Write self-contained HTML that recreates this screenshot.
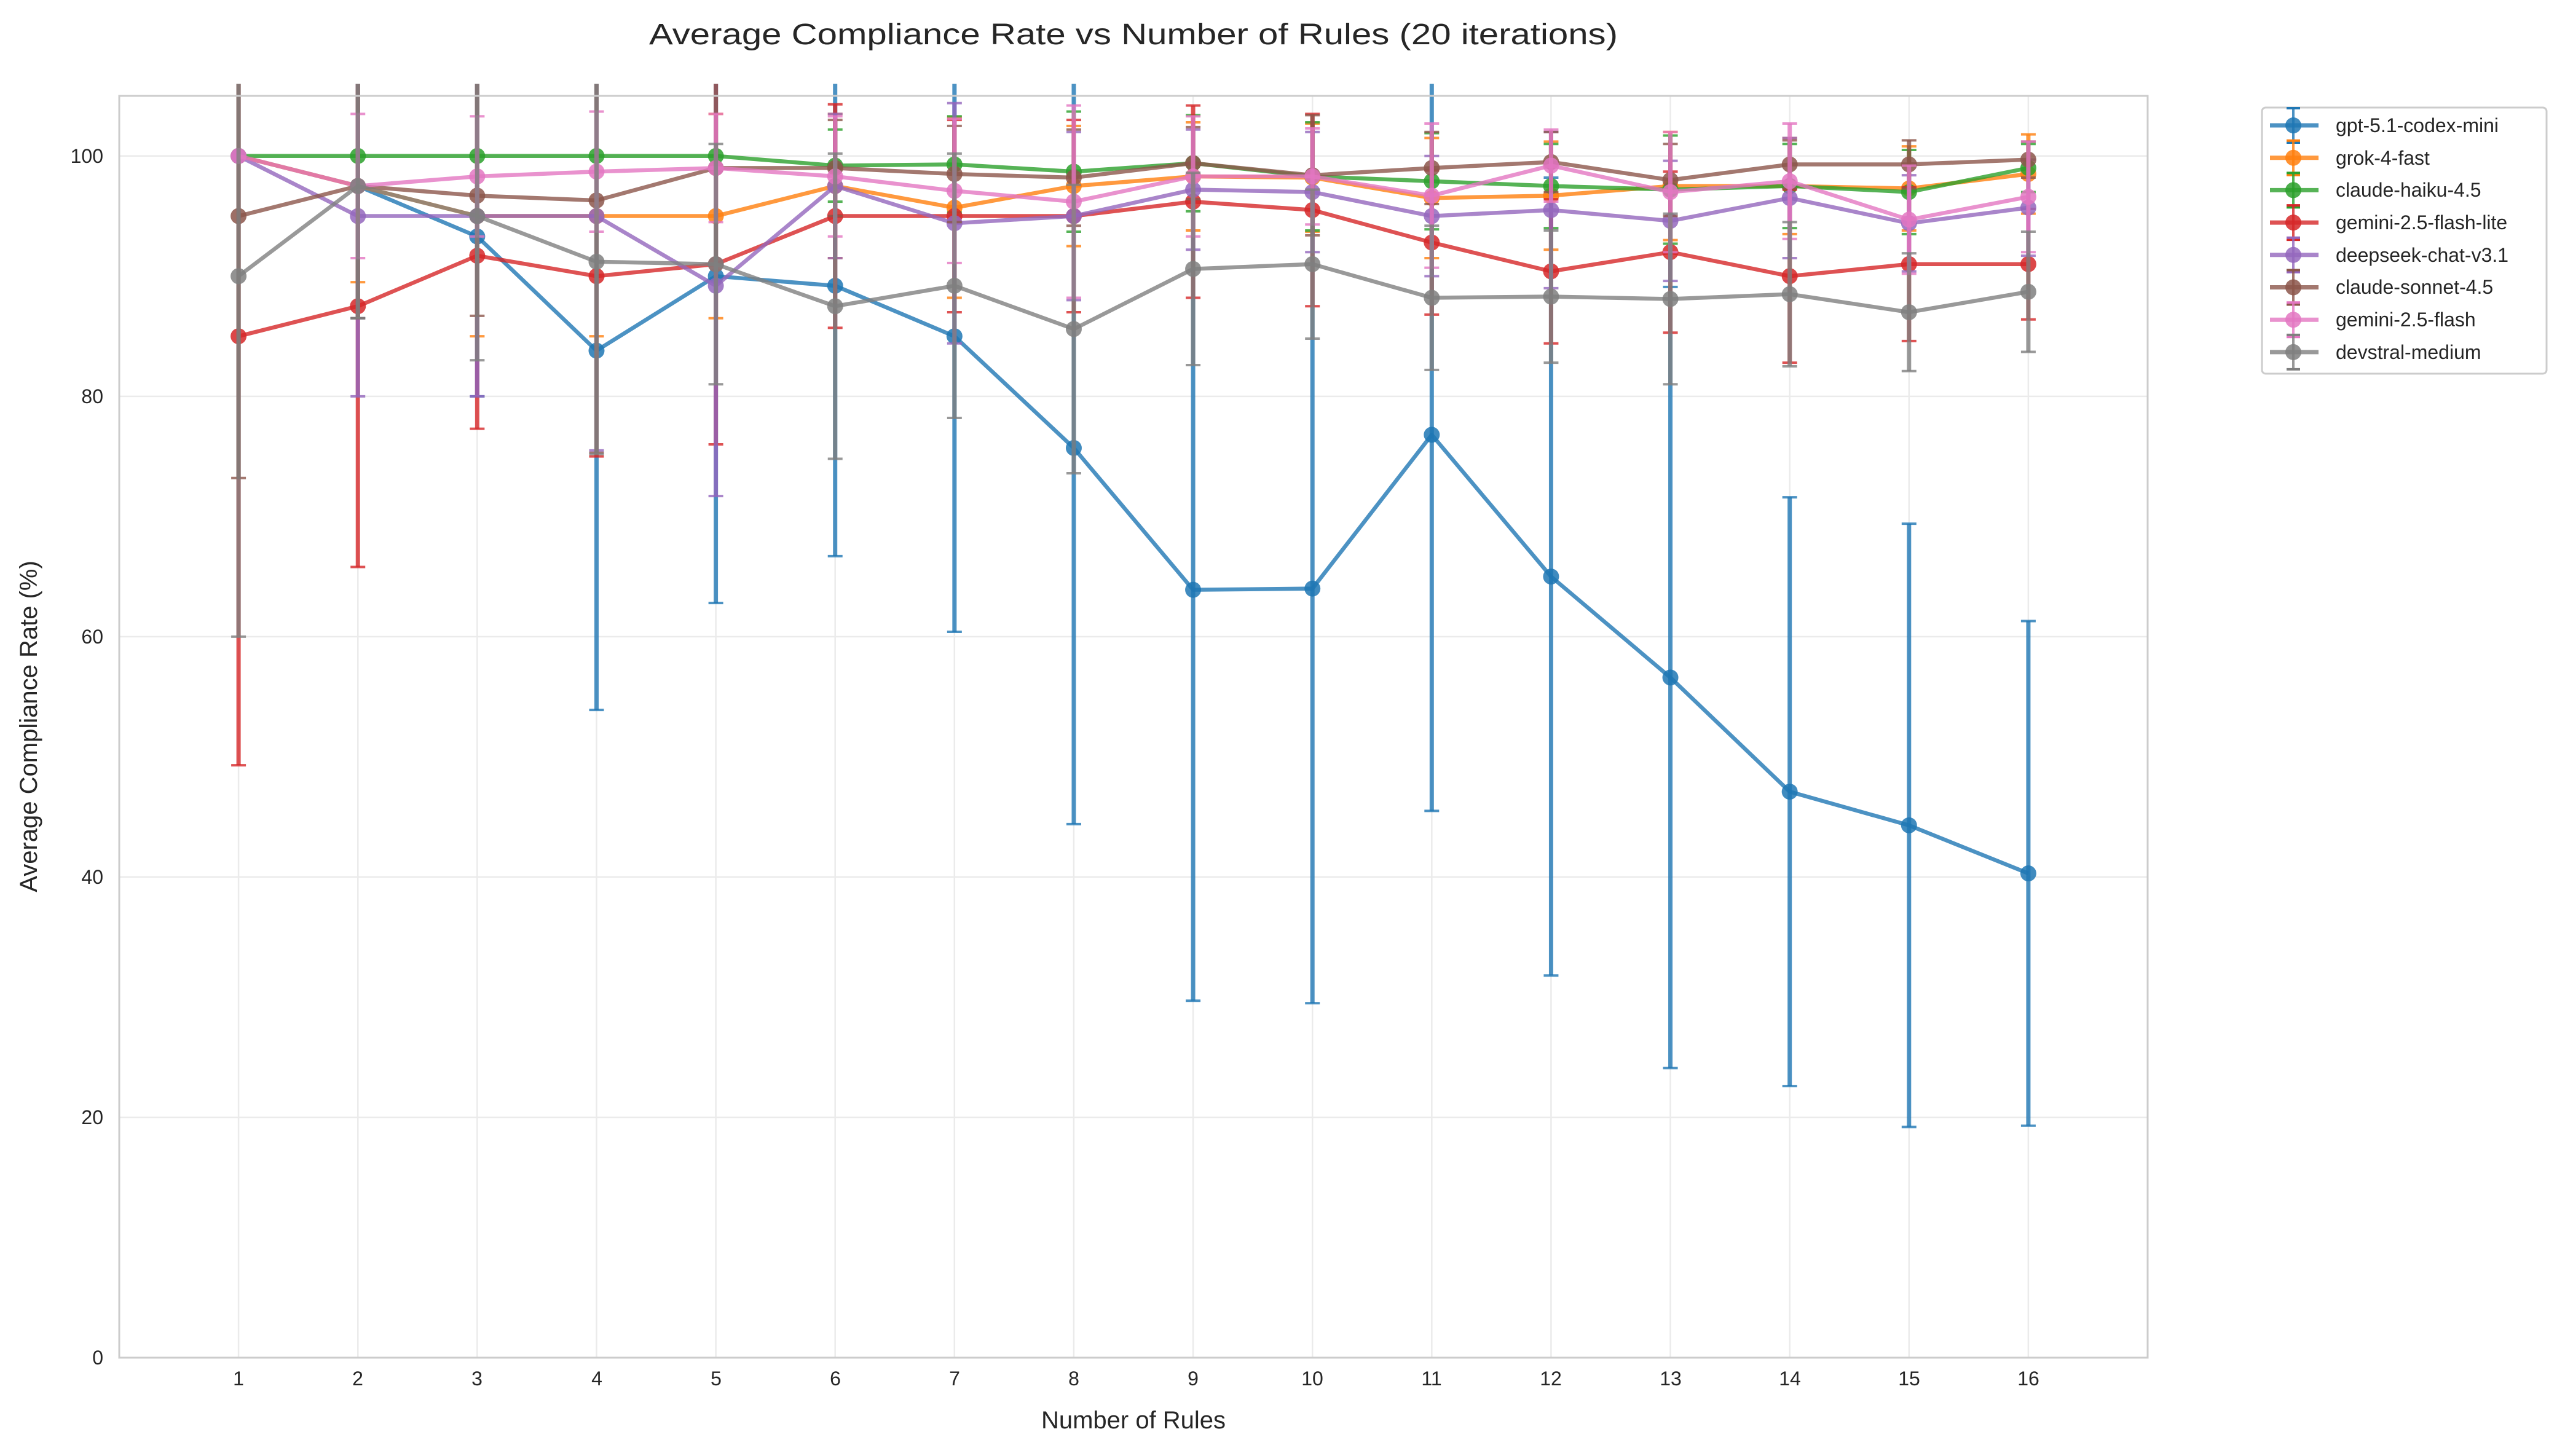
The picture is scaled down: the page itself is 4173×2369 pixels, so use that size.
<!DOCTYPE html>
<html><head><meta charset="utf-8"><style>html,body{margin:0;padding:0;background:#fff}svg{display:block}</style></head>
<body>
<svg id="s" xmlns="http://www.w3.org/2000/svg" width="4173" height="2369" viewBox="0 0 4173 2369" font-family="Liberation Sans, Arial, sans-serif">
<rect width="4173" height="2369" fill="#fff"/>
<g id="grid" stroke="#ebebeb" stroke-width="2.5"></g>
<g id="data"></g>
<rect x="194" y="156" width="3300" height="2053" fill="none" stroke="#cccccc" stroke-width="3"/>
<g font-size="32" fill="#262626" text-anchor="end">
<text x="168" y="2220">0</text><text x="168" y="1829">20</text><text x="168" y="1438">40</text>
<text x="168" y="1047">60</text><text x="168" y="656">80</text><text x="168" y="265">100</text>
</g>
<g font-size="32" fill="#262626" text-anchor="middle">
<text x="388" y="2254">1</text><text x="582" y="2254">2</text><text x="776" y="2254">3</text><text x="971" y="2254">4</text>
<text x="1165" y="2254">5</text><text x="1359" y="2254">6</text><text x="1553" y="2254">7</text><text x="1747" y="2254">8</text>
<text x="1941" y="2254">9</text><text x="2135" y="2254">10</text><text x="2329" y="2254">11</text><text x="2523" y="2254">12</text>
<text x="2718" y="2254">13</text><text x="2912" y="2254">14</text><text x="3106" y="2254">15</text><text x="3300" y="2254">16</text>
</g>
<text x="1844" y="72" font-size="48" text-anchor="middle" fill="#262626" textLength="1576" lengthAdjust="spacingAndGlyphs">Average Compliance Rate vs Number of Rules (20 iterations)</text>
<text x="1844" y="2324" font-size="40" text-anchor="middle" fill="#262626">Number of Rules</text>
<text transform="translate(60,1182) rotate(-90)" font-size="40" text-anchor="middle" fill="#262626">Average Compliance Rate (%)</text>
<rect x="3680" y="175" width="463" height="433" rx="6" fill="#fff" fill-opacity="0.8" stroke="#cccccc" stroke-width="3"/>
<g id="leg"></g>
<g font-size="32" fill="#262626">
<text x="3800" y="215">gpt-5.1-codex-mini</text>
<text x="3800" y="268">grok-4-fast</text>
<text x="3800" y="320">claude-haiku-4.5</text>
<text x="3800" y="373">gemini-2.5-flash-lite</text>
<text x="3800" y="426">deepseek-chat-v3.1</text>
<text x="3800" y="478">claude-sonnet-4.5</text>
<text x="3800" y="531">gemini-2.5-flash</text>
<text x="3800" y="584">devstral-medium</text>
</g>
</svg>
<script>
var NS="http://www.w3.org/2000/svg";
function X(v){return 194+v*194.12;}
function Y(v){return 2209-v*19.552;}
function el(p,t,a){var e=document.createElementNS(NS,t);for(var k in a)e.setAttribute(k,a[k]);p.appendChild(e);return e;}
var g=document.getElementById('grid');
for(var i=1;i<=16;i++)el(g,'line',{x1:X(i),x2:X(i),y1:156,y2:2209});
for(var j=20;j<=100;j+=20)el(g,'line',{x1:194,x2:3494,y1:Y(j),y2:Y(j)});
var S=[
["#1f77b4",[100,97.5,93.3,83.8,90,89.2,85,75.7,63.9,64,76.8,65,56.6,47.1,44.3,40.3],[0,11,13.3,29.9,27.2,22.5,24.6,31.3,34.2,34.5,31.3,33.2,32.5,24.5,25.1,21]],
["#ff7f0e",[100,97.5,95,95,95,97.5,95.7,97.5,98.3,98.2,96.5,96.7,97.5,97.5,97.3,98.5],[0,8,10,10,8.5,6,7.5,5,4.5,4.5,5,4.5,4.5,4,3.5,3.3]],
["#2ca02c",[100,100,100,100,100,99.2,99.3,98.7,99.4,98.3,97.9,97.5,97.2,97.5,97,99],[0,0,0,0,0,3,4,5,4,4.5,4,3.5,4.5,3.5,3.5,2]],
["#d62728",[85,87.5,91.7,90,91,95,95,95,96.2,95.5,92.8,90.4,92,90,91,91],[35.7,21.7,14.4,15,15,9.3,8,8,8,8,6,6,6.7,7.2,6.4,4.6]],
["#9467bd",[100,95,95,95,89.2,97.5,94.4,95,97.2,97,95,95.5,94.6,96.5,94.4,95.7],[0,15,15,19.5,17.5,6,10,7,5,5,5,6.5,5,5,4,4]],
["#8c564b",[95,97.5,96.7,96.3,99,99,98.5,98.2,99.4,98.4,99,99.5,98,99.3,99.3,99.7],[21.8,11,10,21,8,4,4,4,3,5,3,2.5,3,2,2,1.5]],
["#e377c2",[100,97.5,98.3,98.7,99,98.3,97.1,96.2,98.3,98.3,96.7,99.2,97,97.9,94.7,96.6],[0,6,5,5,4.5,5,6,8,5,4,6,3,5,4.8,4.5,4.6]],
["#7f7f7f",[90,97.5,95,91.2,91,87.5,89.2,85.6,90.6,91,88.2,88.3,88.1,88.5,87,88.7],[30,11,12,16,10,12.7,11,12,8,6.2,6,5.5,7.1,6,4.9,5]]
];
var d=document.getElementById('data');
S.forEach(function(s){
  var c=s[0],m=s[1],e=s[2],gg=el(d,'g',{});
  var pts=m.map(function(v,i){return X(i+1)+','+Y(v);}).join(' ');
  for(var i=0;i<16;i++){
    if(e[i]<=0)continue;
    var x=X(i+1),lo=Math.max(0,m[i]-e[i]),hi=Math.min(106,m[i]+e[i]);
    el(gg,'line',{x1:x,x2:x,y1:Y(lo),y2:Y(hi),stroke:c,'stroke-width':7,'stroke-opacity':0.8});
    el(gg,'line',{x1:x-12,x2:x+12,y1:Y(m[i]-e[i]),y2:Y(m[i]-e[i]),stroke:c,'stroke-width':4,'stroke-opacity':0.8});
    if(m[i]+e[i]<105)el(gg,'line',{x1:x-12,x2:x+12,y1:Y(m[i]+e[i]),y2:Y(m[i]+e[i]),stroke:c,'stroke-width':4,'stroke-opacity':0.8});
  }
  el(gg,'polyline',{points:pts,fill:'none',stroke:c,'stroke-width':6.5,'stroke-opacity':0.8,'stroke-linejoin':'round'});
  for(var i=0;i<16;i++)el(gg,'circle',{cx:X(i+1),cy:Y(m[i]),r:13,fill:c,'fill-opacity':0.85});
});
var L=document.getElementById('leg');
S.forEach(function(s,i){
  var y=204+i*52.7,c=s[0];
  el(L,'line',{x1:3693,x2:3772,y1:y,y2:y,stroke:c,'stroke-width':7,'stroke-opacity':0.8});
  el(L,'line',{x1:3731,x2:3731,y1:y-28,y2:y+28,stroke:c,'stroke-width':4,'stroke-opacity':0.8});
  el(L,'line',{x1:3720,x2:3742,y1:y-28,y2:y-28,stroke:c,'stroke-width':4});
  el(L,'line',{x1:3720,x2:3742,y1:y+28,y2:y+28,stroke:c,'stroke-width':4});
  el(L,'circle',{cx:3731,cy:y,r:13,fill:c,'fill-opacity':0.85});
});
</script>
</body></html>
